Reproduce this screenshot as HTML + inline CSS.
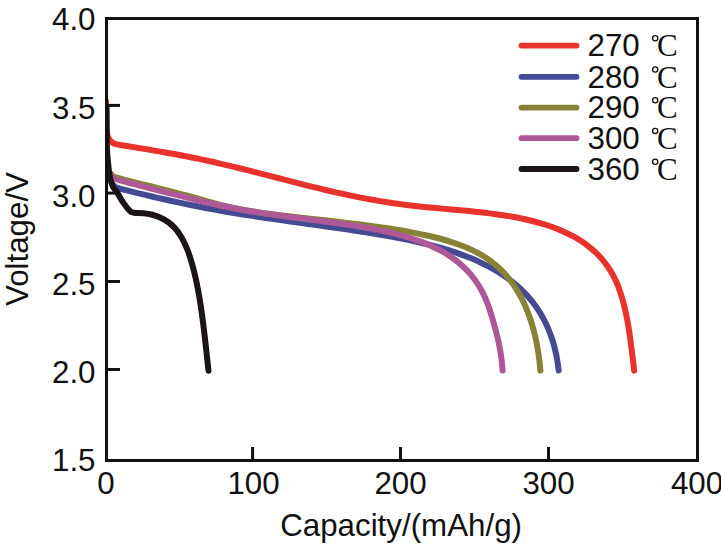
<!DOCTYPE html>
<html><head><meta charset="utf-8"><style>
html,body{margin:0;padding:0;background:#fff;width:721px;height:548px;overflow:hidden}
svg{display:block}
</style></head><body>
<svg width="721" height="548" viewBox="0 0 721 548">
<defs><clipPath id="pc"><rect x="106.5" y="18.5" width="591" height="442"/></clipPath></defs>
<rect width="721" height="548" fill="#fff"/>
<g clip-path="url(#pc)">
<path d="M106.00 101.00C105.98 104.83 105.80 118.83 105.90 124.00C106.00 129.17 106.15 129.60 106.60 132.00C107.05 134.40 107.70 136.68 108.60 138.40C109.50 140.12 110.77 141.33 112.00 142.30C113.23 143.27 113.85 143.64 116.00 144.20C118.15 144.76 121.91 145.19 124.87 145.68C127.83 146.17 130.79 146.66 133.75 147.15C136.71 147.64 139.67 148.13 142.63 148.62C145.59 149.11 148.55 149.61 151.51 150.11C154.46 150.61 157.42 151.12 160.38 151.63C163.33 152.15 166.29 152.66 169.24 153.19C172.19 153.72 175.15 154.26 178.09 154.81C181.04 155.36 183.99 155.92 186.94 156.49C189.88 157.06 192.82 157.65 195.76 158.25C198.70 158.85 201.64 159.47 204.57 160.10C207.50 160.73 210.43 161.38 213.36 162.04C216.29 162.69 219.21 163.37 222.13 164.05C225.05 164.73 227.97 165.42 230.89 166.12C233.81 166.83 236.72 167.54 239.63 168.26C242.55 168.97 245.46 169.70 248.37 170.43C251.27 171.17 254.18 171.91 257.09 172.65C260.00 173.39 262.90 174.14 265.81 174.89C268.71 175.63 271.62 176.39 274.52 177.14C277.42 177.89 280.33 178.64 283.23 179.39C286.14 180.14 289.04 180.89 291.95 181.63C294.86 182.38 297.76 183.12 300.67 183.86C303.58 184.59 306.49 185.32 309.40 186.05C312.31 186.77 315.22 187.49 318.14 188.20C321.06 188.90 323.97 189.60 326.89 190.29C329.81 190.98 332.74 191.65 335.66 192.32C338.59 192.98 341.52 193.63 344.45 194.27C347.38 194.90 350.31 195.52 353.25 196.13C356.19 196.73 359.13 197.32 362.08 197.89C365.02 198.46 367.97 199.02 370.92 199.55C373.88 200.08 376.83 200.60 379.79 201.09C382.75 201.59 385.71 202.06 388.68 202.52C391.64 202.97 394.61 203.40 397.58 203.81C400.56 204.22 403.53 204.61 406.51 204.97C409.49 205.34 412.47 205.68 415.45 206.01C418.43 206.33 421.42 206.64 424.40 206.94C427.39 207.24 430.37 207.52 433.36 207.80C436.35 208.09 439.33 208.35 442.32 208.63C445.31 208.90 448.30 209.16 451.28 209.43C454.27 209.70 457.26 209.97 460.25 210.25C463.23 210.53 466.22 210.81 469.21 211.11C472.19 211.40 475.18 211.70 478.16 212.03C481.14 212.35 484.12 212.68 487.10 213.04C490.08 213.40 493.06 213.78 496.03 214.19C499.00 214.59 501.97 215.02 504.93 215.49C507.90 215.96 510.86 216.45 513.81 216.99C516.76 217.53 519.70 218.11 522.64 218.74C525.57 219.36 528.50 220.03 531.41 220.75C534.32 221.48 537.22 222.25 540.10 223.08C542.98 223.92 545.85 224.81 548.69 225.77C551.53 226.73 554.35 227.76 557.14 228.86C559.92 229.97 562.69 231.15 565.41 232.42C568.12 233.69 570.81 235.03 573.44 236.48C576.06 237.93 578.65 239.46 581.15 241.10C583.66 242.74 586.12 244.48 588.48 246.33C590.84 248.17 593.13 250.12 595.31 252.18C597.49 254.23 599.59 256.39 601.56 258.65C603.53 260.91 605.40 263.27 607.13 265.71C608.87 268.16 610.48 270.70 611.96 273.30C613.45 275.91 614.79 278.60 616.02 281.33C617.26 284.06 618.36 286.86 619.39 289.68C620.41 292.49 621.32 295.36 622.17 298.23C623.02 301.11 623.78 304.02 624.48 306.93C625.19 309.85 625.83 312.78 626.42 315.72C627.02 318.66 627.56 321.61 628.07 324.57C628.58 327.52 629.04 330.49 629.49 333.45C629.93 336.42 630.34 339.39 630.74 342.37C631.14 345.34 631.51 348.32 631.88 351.29C632.25 354.27 632.60 357.25 632.96 360.23C633.31 363.21 633.81 367.44 634.01 369.17C634.22 370.90 634.16 370.37 634.19 370.61" fill="none" stroke="#e8332c" stroke-width="6.0" stroke-linecap="round" stroke-linejoin="round"/>
<path d="M112.00 183.50C112.42 183.95 113.50 185.42 114.50 186.20C115.50 186.98 115.96 187.50 118.00 188.20C120.04 188.90 123.83 189.67 126.74 190.40C129.66 191.13 132.56 191.86 135.48 192.57C138.39 193.29 141.31 194.00 144.22 194.70C147.14 195.40 150.06 196.09 152.98 196.77C155.90 197.45 158.83 198.12 161.75 198.78C164.68 199.45 167.61 200.10 170.54 200.74C173.47 201.39 176.40 202.02 179.33 202.64C182.27 203.27 185.21 203.88 188.14 204.49C191.08 205.09 194.02 205.69 196.97 206.27C199.91 206.85 202.85 207.43 205.80 207.99C208.75 208.55 211.70 209.10 214.65 209.64C217.60 210.18 220.55 210.72 223.50 211.23C226.46 211.75 229.42 212.26 232.37 212.76C235.33 213.26 238.29 213.74 241.25 214.22C244.22 214.70 247.18 215.17 250.14 215.63C253.11 216.09 256.08 216.54 259.04 216.98C262.01 217.43 264.98 217.87 267.94 218.30C270.91 218.73 273.88 219.16 276.85 219.58C279.82 220.01 282.79 220.43 285.76 220.84C288.73 221.26 291.71 221.68 294.68 222.09C297.65 222.50 300.62 222.91 303.59 223.33C306.56 223.74 309.54 224.15 312.51 224.56C315.48 224.97 318.45 225.38 321.42 225.80C324.39 226.22 327.36 226.63 330.33 227.05C333.30 227.48 336.27 227.90 339.24 228.33C342.21 228.76 345.18 229.19 348.15 229.63C351.12 230.07 354.08 230.52 357.05 230.97C360.01 231.43 362.98 231.89 365.94 232.36C368.90 232.83 371.86 233.31 374.82 233.80C377.78 234.29 380.74 234.78 383.70 235.30C386.65 235.81 389.61 236.34 392.56 236.88C395.51 237.43 398.46 237.99 401.40 238.57C404.34 239.15 407.28 239.75 410.22 240.37C413.15 240.99 416.08 241.63 419.01 242.30C421.93 242.98 424.85 243.67 427.76 244.40C430.67 245.12 433.57 245.88 436.47 246.67C439.36 247.46 442.25 248.28 445.12 249.15C447.99 250.01 450.86 250.91 453.70 251.85C456.55 252.80 459.38 253.78 462.20 254.82C465.01 255.86 467.81 256.94 470.59 258.07C473.36 259.21 476.12 260.40 478.85 261.65C481.57 262.91 484.27 264.21 486.94 265.59C489.60 266.97 492.24 268.40 494.83 269.92C497.42 271.43 499.98 273.01 502.47 274.66C504.97 276.32 507.43 278.05 509.82 279.86C512.21 281.67 514.55 283.56 516.81 285.53C519.07 287.50 521.27 289.55 523.38 291.68C525.49 293.80 527.53 296.01 529.48 298.29C531.42 300.57 533.29 302.93 535.05 305.36C536.82 307.78 538.49 310.28 540.06 312.83C541.63 315.39 543.10 318.01 544.47 320.67C545.84 323.34 547.11 326.07 548.28 328.83C549.45 331.59 550.51 334.40 551.49 337.23C552.46 340.07 553.33 342.94 554.12 345.84C554.91 348.73 555.60 351.65 556.21 354.59C556.82 357.53 557.37 360.78 557.78 363.45C558.20 366.12 558.55 369.41 558.70 370.60" fill="none" stroke="#454a92" stroke-width="6.0" stroke-linecap="round" stroke-linejoin="round"/>
<path d="M110.80 173.80C111.08 174.13 111.72 175.22 112.50 175.80C113.28 176.38 113.55 176.67 115.50 177.30C117.45 177.93 121.30 178.84 124.20 179.59C127.10 180.35 130.01 181.09 132.92 181.83C135.82 182.57 138.73 183.30 141.64 184.04C144.55 184.77 147.46 185.50 150.37 186.23C153.28 186.96 156.19 187.68 159.10 188.42C162.01 189.15 164.92 189.88 167.83 190.62C170.73 191.36 173.64 192.10 176.54 192.86C179.45 193.61 182.35 194.37 185.25 195.14C188.15 195.91 191.05 196.69 193.94 197.48C196.83 198.28 199.72 199.09 202.61 199.91C205.49 200.73 208.37 201.59 211.25 202.40C214.14 203.22 217.03 204.05 219.93 204.80C222.83 205.55 225.75 206.26 228.68 206.92C231.60 207.58 234.54 208.18 237.48 208.76C240.43 209.34 243.38 209.87 246.34 210.38C249.29 210.89 252.26 211.37 255.22 211.83C258.19 212.29 261.15 212.71 264.13 213.13C267.10 213.55 270.07 213.95 273.04 214.33C276.02 214.72 279.00 215.10 281.97 215.47C284.95 215.83 287.93 216.19 290.91 216.54C293.89 216.90 296.87 217.24 299.85 217.58C302.83 217.92 305.81 218.26 308.79 218.59C311.77 218.93 314.75 219.26 317.74 219.59C320.72 219.92 323.70 220.25 326.68 220.58C329.66 220.92 332.64 221.25 335.62 221.59C338.61 221.92 341.59 222.26 344.57 222.61C347.55 222.96 350.53 223.31 353.50 223.67C356.48 224.03 359.46 224.39 362.44 224.77C365.41 225.15 368.39 225.53 371.36 225.93C374.33 226.33 377.31 226.74 380.28 227.16C383.25 227.59 386.21 228.03 389.18 228.48C392.14 228.94 395.11 229.41 398.07 229.91C401.02 230.40 403.98 230.91 406.93 231.45C409.88 231.99 412.83 232.54 415.77 233.13C418.72 233.71 421.65 234.32 424.58 234.96C427.51 235.61 430.44 236.27 433.35 236.99C436.27 237.70 439.17 238.45 442.07 239.25C444.96 240.05 447.84 240.89 450.70 241.80C453.55 242.71 456.40 243.67 459.21 244.71C462.03 245.74 464.82 246.84 467.57 248.03C470.33 249.22 473.05 250.49 475.72 251.86C478.39 253.23 481.02 254.68 483.57 256.25C486.12 257.83 488.62 259.50 491.02 261.29C493.42 263.09 495.75 265.00 497.97 267.01C500.19 269.02 502.32 271.14 504.35 273.35C506.38 275.55 508.32 277.86 510.15 280.23C511.98 282.60 513.71 285.06 515.35 287.57C516.99 290.08 518.52 292.67 519.97 295.29C521.42 297.92 522.77 300.60 524.04 303.32C525.31 306.03 526.49 308.80 527.59 311.59C528.69 314.38 529.70 317.21 530.64 320.05C531.59 322.90 532.45 325.78 533.24 328.67C534.04 331.56 534.76 334.48 535.42 337.40C536.08 340.33 536.67 343.27 537.21 346.22C537.75 349.17 538.23 352.13 538.65 355.10C539.08 358.07 539.48 361.45 539.77 364.03C540.07 366.61 540.30 369.50 540.41 370.59" fill="none" stroke="#878235" stroke-width="6.0" stroke-linecap="round" stroke-linejoin="round"/>
<path d="M110.80 175.50C111.08 175.83 111.72 176.92 112.50 177.50C113.28 178.08 113.56 178.34 115.50 179.00C117.44 179.66 121.26 180.67 124.15 181.48C127.04 182.29 129.93 183.07 132.83 183.85C135.73 184.62 138.63 185.38 141.54 186.13C144.44 186.89 147.35 187.62 150.26 188.36C153.16 189.10 156.08 189.83 158.98 190.56C161.89 191.29 164.80 192.02 167.71 192.75C170.62 193.48 173.53 194.22 176.44 194.95C179.35 195.69 182.26 196.43 185.17 197.15C188.08 197.88 190.99 198.61 193.90 199.33C196.81 200.04 199.73 200.76 202.65 201.45C205.56 202.15 208.48 202.83 211.41 203.50C214.33 204.17 217.26 204.82 220.20 205.45C223.13 206.08 226.07 206.69 229.01 207.28C231.95 207.86 234.90 208.43 237.85 208.97C240.80 209.52 243.75 210.04 246.71 210.55C249.66 211.06 252.62 211.55 255.58 212.03C258.55 212.51 261.51 212.97 264.48 213.42C267.44 213.87 270.41 214.31 273.38 214.73C276.35 215.16 279.32 215.57 282.29 215.98C285.27 216.39 288.24 216.78 291.21 217.17C294.19 217.56 297.16 217.95 300.14 218.33C303.12 218.71 306.09 219.09 309.07 219.47C312.04 219.85 315.02 220.23 317.99 220.61C320.97 221.00 323.94 221.38 326.92 221.78C329.89 222.17 332.87 222.57 335.84 222.98C338.81 223.39 341.78 223.81 344.75 224.24C347.72 224.67 350.69 225.12 353.65 225.58C356.61 226.04 359.58 226.52 362.53 227.02C365.49 227.52 368.45 228.04 371.40 228.59C374.34 229.14 377.29 229.71 380.23 230.32C383.17 230.92 386.10 231.56 389.02 232.24C391.94 232.91 394.86 233.62 397.76 234.39C400.66 235.15 403.55 235.94 406.43 236.80C409.30 237.66 412.17 238.57 415.00 239.54C417.84 240.51 420.66 241.53 423.45 242.64C426.24 243.74 429.01 244.90 431.73 246.16C434.46 247.41 437.16 248.73 439.80 250.15C442.44 251.57 445.04 253.07 447.57 254.67C450.11 256.28 452.59 257.97 454.99 259.77C457.38 261.57 459.72 263.48 461.94 265.48C464.17 267.49 466.31 269.60 468.34 271.81C470.36 274.02 472.28 276.34 474.08 278.73C475.88 281.13 477.56 283.63 479.11 286.19C480.67 288.75 482.11 291.39 483.44 294.08C484.76 296.77 485.96 299.53 487.06 302.32C488.16 305.10 489.12 307.95 490.05 310.80C490.99 313.65 491.82 316.54 492.66 319.42C493.50 322.30 494.32 325.18 495.10 328.08C495.88 330.98 496.64 333.88 497.34 336.80C498.04 339.71 498.71 342.64 499.29 345.58C499.88 348.52 500.42 351.48 500.87 354.44C501.32 357.41 501.73 360.67 502.01 363.37C502.30 366.06 502.51 369.39 502.60 370.60" fill="none" stroke="#ae5898" stroke-width="6.0" stroke-linecap="round" stroke-linejoin="round"/>
<path d="M106.60 107.00C106.63 110.83 106.73 122.83 106.80 130.00C106.87 137.17 106.75 144.17 107.00 150.00C107.25 155.83 107.85 160.67 108.30 165.00C108.75 169.33 109.03 172.58 109.70 176.00C110.37 179.42 111.42 183.25 112.30 185.50C113.18 187.75 114.10 188.20 115.00 189.50C115.90 190.80 116.87 191.97 117.70 193.30C118.53 194.63 119.18 196.12 120.00 197.50C120.82 198.88 121.67 200.22 122.60 201.60C123.53 202.98 124.60 204.47 125.60 205.80C126.60 207.13 127.63 208.53 128.60 209.60C129.57 210.67 130.33 211.65 131.40 212.20C132.47 212.75 133.02 212.72 135.00 212.90C136.98 213.08 140.43 213.00 143.30 213.30C146.17 213.60 149.29 214.00 152.19 214.73C155.09 215.46 157.98 216.42 160.68 217.67C163.39 218.93 166.02 220.48 168.41 222.26C170.80 224.03 173.02 226.13 175.02 228.34C177.02 230.55 178.80 233.02 180.42 235.53C182.03 238.05 183.43 240.73 184.72 243.43C186.01 246.13 187.12 248.93 188.17 251.74C189.21 254.55 190.12 257.41 191.00 260.28C191.87 263.15 192.66 266.05 193.42 268.95C194.17 271.85 194.87 274.77 195.53 277.70C196.19 280.62 196.80 283.56 197.38 286.50C197.97 289.45 198.51 292.40 199.02 295.35C199.54 298.31 200.02 301.27 200.48 304.23C200.94 307.20 201.38 310.17 201.79 313.14C202.21 316.11 202.60 319.08 202.99 322.06C203.37 325.03 203.73 328.01 204.09 330.99C204.44 333.97 204.78 336.95 205.12 339.93C205.46 342.91 205.79 345.89 206.11 348.88C206.44 351.86 206.76 354.84 207.09 357.82C207.41 360.81 207.83 364.61 208.06 366.77C208.30 368.93 208.44 370.12 208.51 370.79" fill="none" stroke="#1b1515" stroke-width="6.0" stroke-linecap="round" stroke-linejoin="round"/>
</g>
<rect x="106.5" y="18.5" width="591" height="442" fill="none" stroke="#111" stroke-width="3"/>
<line x1="252.6" y1="447" x2="252.6" y2="459" stroke="#111" stroke-width="3"/>
<line x1="400.5" y1="447" x2="400.5" y2="459" stroke="#111" stroke-width="3"/>
<line x1="548.5" y1="447" x2="548.5" y2="459" stroke="#111" stroke-width="3"/>
<line x1="108" y1="105.4" x2="120" y2="105.4" stroke="#111" stroke-width="3"/>
<line x1="108" y1="193.1" x2="120" y2="193.1" stroke="#111" stroke-width="3"/>
<line x1="108" y1="281.5" x2="120" y2="281.5" stroke="#111" stroke-width="3"/>
<line x1="108" y1="369.5" x2="120" y2="369.5" stroke="#111" stroke-width="3"/>
<text x="95.5" y="29.5" text-anchor="end" style="font-family:'Liberation Sans',sans-serif;font-size:31.3px;fill:#111">4.0</text>
<text x="95.5" y="118.5" text-anchor="end" style="font-family:'Liberation Sans',sans-serif;font-size:31.3px;fill:#111">3.5</text>
<text x="95.5" y="206.5" text-anchor="end" style="font-family:'Liberation Sans',sans-serif;font-size:31.3px;fill:#111">3.0</text>
<text x="95.5" y="294.5" text-anchor="end" style="font-family:'Liberation Sans',sans-serif;font-size:31.3px;fill:#111">2.5</text>
<text x="95.5" y="382.5" text-anchor="end" style="font-family:'Liberation Sans',sans-serif;font-size:31.3px;fill:#111">2.0</text>
<text x="95.5" y="470.5" text-anchor="end" style="font-family:'Liberation Sans',sans-serif;font-size:31.3px;fill:#111">1.5</text>
<text x="106.0" y="493.7" text-anchor="middle" style="font-family:'Liberation Sans',sans-serif;font-size:31.3px;fill:#111">0</text>
<text x="253.5" y="493.7" text-anchor="middle" style="font-family:'Liberation Sans',sans-serif;font-size:31.3px;fill:#111">100</text>
<text x="400.5" y="493.7" text-anchor="middle" style="font-family:'Liberation Sans',sans-serif;font-size:31.3px;fill:#111">200</text>
<text x="548.5" y="493.7" text-anchor="middle" style="font-family:'Liberation Sans',sans-serif;font-size:31.3px;fill:#111">300</text>
<text x="697.0" y="493.7" text-anchor="middle" style="font-family:'Liberation Sans',sans-serif;font-size:31.3px;fill:#111">400</text>
<text x="401.1" y="535.5" text-anchor="middle" style="font-family:'Liberation Sans',sans-serif;font-size:31.3px;fill:#111">Capacity/(mAh/g)</text>
<text transform="translate(27.5,239) rotate(-90)" x="0" y="0" text-anchor="middle" style="font-family:'Liberation Sans',sans-serif;font-size:31.3px;fill:#111">Voltage/V</text>
<line x1="521.5" y1="45.6" x2="576.5" y2="45.6" stroke="#e8332c" stroke-width="5.8" stroke-linecap="round"/>
<text x="587.5" y="56.3" style="font-family:'Liberation Sans',sans-serif;font-size:31.3px;fill:#111">270</text>
<circle cx="655.2" cy="38.3" r="2.6" fill="none" stroke="#111" stroke-width="1.3"/>
<text x="657" y="56.3" style="font-family:'Liberation Serif',serif;font-size:31px;fill:#111">C</text>
<line x1="521.5" y1="76.8" x2="576.5" y2="76.8" stroke="#454a92" stroke-width="5.8" stroke-linecap="round"/>
<text x="587.5" y="87.5" style="font-family:'Liberation Sans',sans-serif;font-size:31.3px;fill:#111">280</text>
<circle cx="655.2" cy="69.5" r="2.6" fill="none" stroke="#111" stroke-width="1.3"/>
<text x="657" y="87.5" style="font-family:'Liberation Serif',serif;font-size:31px;fill:#111">C</text>
<line x1="521.5" y1="107.6" x2="576.5" y2="107.6" stroke="#878235" stroke-width="5.8" stroke-linecap="round"/>
<text x="587.5" y="118.3" style="font-family:'Liberation Sans',sans-serif;font-size:31.3px;fill:#111">290</text>
<circle cx="655.2" cy="100.3" r="2.6" fill="none" stroke="#111" stroke-width="1.3"/>
<text x="657" y="118.3" style="font-family:'Liberation Serif',serif;font-size:31px;fill:#111">C</text>
<line x1="521.5" y1="138.2" x2="576.5" y2="138.2" stroke="#ae5898" stroke-width="5.8" stroke-linecap="round"/>
<text x="587.5" y="148.9" style="font-family:'Liberation Sans',sans-serif;font-size:31.3px;fill:#111">300</text>
<circle cx="655.2" cy="130.9" r="2.6" fill="none" stroke="#111" stroke-width="1.3"/>
<text x="657" y="148.9" style="font-family:'Liberation Serif',serif;font-size:31px;fill:#111">C</text>
<line x1="521.5" y1="169.0" x2="576.5" y2="169.0" stroke="#1b1515" stroke-width="5.8" stroke-linecap="round"/>
<text x="587.5" y="179.7" style="font-family:'Liberation Sans',sans-serif;font-size:31.3px;fill:#111">360</text>
<circle cx="655.2" cy="161.7" r="2.6" fill="none" stroke="#111" stroke-width="1.3"/>
<text x="657" y="179.7" style="font-family:'Liberation Serif',serif;font-size:31px;fill:#111">C</text>
</svg>
</body></html>
